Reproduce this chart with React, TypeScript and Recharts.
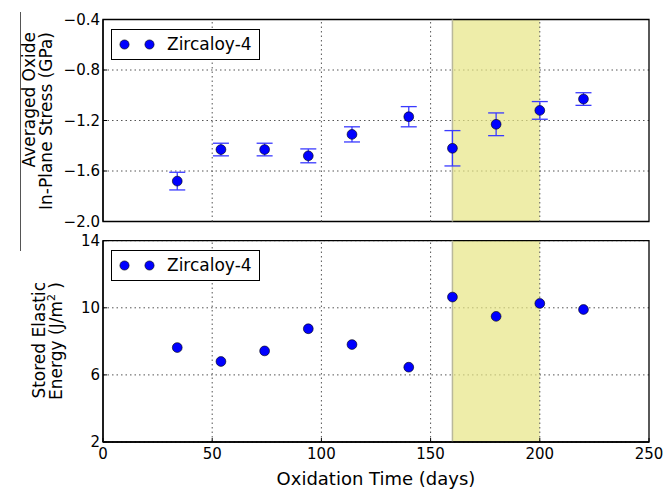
import React from "react";
import {
  CartesianGrid,
  ErrorBar,
  Legend,
  ReferenceArea,
  ReferenceLine,
  Scatter,
  ScatterChart,
  XAxis,
  YAxis,
} from "recharts";

// oxidation time (days) for every sample
const DAYS = [34, 54, 74, 94, 114, 140, 160, 180, 200, 220];
// averaged oxide in-plane stress (GPa) and its error
const STRESS = [-1.68, -1.43, -1.43, -1.48, -1.31, -1.17, -1.42, -1.23, -1.12, -1.03];
const STRESS_ERR = [0.07, 0.05, 0.05, 0.055, 0.06, 0.08, 0.14, 0.09, 0.07, 0.05];
// stored elastic energy (J/m^2)
const ENERGY = [7.63, 6.8, 7.43, 8.75, 7.81, 6.46, 10.64, 9.49, 10.26, 9.9];

const X_TICKS = [0, 50, 100, 150, 200, 250];
const STRESS_TICKS = [-2.0, -1.6, -1.2, -0.8, -0.4];
const ENERGY_TICKS = [2, 6, 10, 14];
const SPAN = [160, 200];
const SERIES_NAME = "Zircaloy-4";

const FONT = "'DejaVu Sans', sans-serif";
const BLUE = "#0000ff";

const stressData = DAYS.map((d, i) => ({ day: d, value: STRESS[i], err: STRESS_ERR[i] }));
const energyData = DAYS.map((d, i) => ({ day: d, value: ENERGY[i] }));

const fmtStress = (v: number) => v.toFixed(1).replace("-", "\u2212");

const Dot = (props: any) => (
  <circle cx={props.cx} cy={props.cy} r={4.9} fill={BLUE} stroke="#000" strokeWidth={0.6} />
);

const LegendBox = () => (
  <div
    style={{
      width: 149,
      height: 31,
      boxSizing: "border-box",
      border: "1px solid #000",
      background: "#fff",
      position: "relative",
      fontFamily: FONT,
      fontSize: 17,
    }}
  >
    <svg width={60} height={29} style={{ position: "absolute", left: 0, top: 0 }}>
      <circle cx={12.5} cy={14.5} r={4.6} fill={BLUE} stroke="#000" strokeWidth={0.6} />
      <circle cx={37.5} cy={14.5} r={4.6} fill={BLUE} stroke="#000" strokeWidth={0.6} />
    </svg>
    <span style={{ position: "absolute", left: 55, top: 4, lineHeight: "20px", color: "#000" }}>
      {SERIES_NAME}
    </span>
  </div>
);

const tickStyle = { fill: "#000", fontSize: 15, fontFamily: FONT };
const gridLine = { stroke: "#555", strokeDasharray: "1.5 3", strokeWidth: 1 };
const frameLine = { stroke: "#000", strokeWidth: 1.3 };

function Panel({
  data,
  ticks,
  domain,
  fmt,
  height,
  margin,
  showX,
  withErr,
}: {
  data: any[];
  ticks: number[];
  domain: [number, number];
  fmt?: (v: number) => string;
  height: number;
  margin: { top: number; right: number; bottom: number; left: number };
  showX: boolean;
  withErr: boolean;
}) {
  return (
    <ScatterChart width={664} height={height} margin={margin}>
      <CartesianGrid vertical={false} {...gridLine} />
      <ReferenceArea
        x1={SPAN[0]}
        x2={SPAN[1]}
        fill="rgb(231,229,132)"
        fillOpacity={0.7}
        stroke="none"
        ifOverflow="hidden"
      />
      <ReferenceLine x={SPAN[0]} stroke="#b9b89c" strokeWidth={1.5} />
      {X_TICKS.slice(1, -1).map((t) => (
        <ReferenceLine key={"x" + t} x={t} {...gridLine} />
      ))}
      <ReferenceArea
        x1={X_TICKS[0]}
        x2={X_TICKS[X_TICKS.length - 1]}
        fill="none"
        fillOpacity={0}
        ifOverflow="visible"
        {...frameLine}
      />
      <XAxis
        type="number"
        dataKey="day"
        domain={[0, 250]}
        ticks={X_TICKS}
        allowDataOverflow
        axisLine={frameLine}
        tickLine={{ stroke: "#000" }}
        tickSize={-4}
        tickMargin={10}
        tick={showX ? tickStyle : false}
        height={showX ? 47 : 0}
        label={
          showX
            ? {
                value: "Oxidation Time (days)",
                position: "insideBottom",
                offset: 4,
                style: { fill: "#000", fontSize: 18, fontFamily: FONT },
              }
            : undefined
        }
      />
      <YAxis
        type="number"
        dataKey="value"
        domain={domain}
        ticks={ticks}
        allowDataOverflow
        width={103}
        axisLine={frameLine}
        tickLine={{ stroke: "#000" }}
        tickSize={-4}
        tickMargin={7}
        tick={tickStyle}
        tickFormatter={fmt}
      />
      <Legend
        layout="vertical"
        verticalAlign="middle"
        align="center"
        content={() => <LegendBox />}
        wrapperStyle={{ left: 111, top: margin.top + 9, width: 149, height: 31 }}
      />
      <Scatter name={SERIES_NAME} data={data} shape={Dot} isAnimationActive={false}>
        {withErr && (
          <ErrorBar dataKey="err" direction="y" width={8} stroke="#3a3aff" strokeWidth={1.3} />
        )}
      </Scatter>
    </ScatterChart>
  );
}

export default function App() {
  return (
    <div
      style={{
        position: "absolute",
        left: 0,
        top: 0,
        width: 664,
        height: 489,
        background: "#fff",
        fontFamily: FONT,
        overflow: "hidden",
      }}
    >
      <div style={{ position: "absolute", left: 0, top: 0 }}>
        <Panel
          data={stressData}
          ticks={STRESS_TICKS}
          domain={[-2.0, -0.4]}
          fmt={fmtStress}
          height={232}
          margin={{ top: 19.5, right: 15, bottom: 10.5, left: 0 }}
          showX={false}
          withErr
        />
      </div>
      <div style={{ position: "absolute", left: 0, top: 232 }}>
        <Panel
          data={energyData}
          ticks={ENERGY_TICKS}
          domain={[2, 14]}
          height={257}
          margin={{ top: 8.7, right: 15, bottom: 0, left: 0 }}
          showX
          withErr={false}
        />
      </div>
      <div
        style={{ position: "absolute", left: 19.5, top: 12, width: 1.5, height: 239, background: "#555" }}
      />
      <svg
        width={664}
        height={489}
        style={{ position: "absolute", left: 0, top: 0, pointerEvents: "none" }}
      >
        <g fontFamily={FONT} fontSize={17} fill="#000" textAnchor="end">
          <text x={34.5} y={32} transform="rotate(-90 34.5 32)">Averaged Oxide</text>
          <text x={51.5} y={32} transform="rotate(-90 51.5 32)">In-Plane Stress (GPa)</text>
          <text x={45} y={282} transform="rotate(-90 45 282)">Stored Elastic</text>
          <text x={62} y={282} transform="rotate(-90 62 282)">
            <tspan>Energy (J/m</tspan>
            <tspan dy={-7} fontSize={11}>2</tspan>
            <tspan dy={7}> )</tspan>
          </text>
        </g>
      </svg>
    </div>
  );
}
